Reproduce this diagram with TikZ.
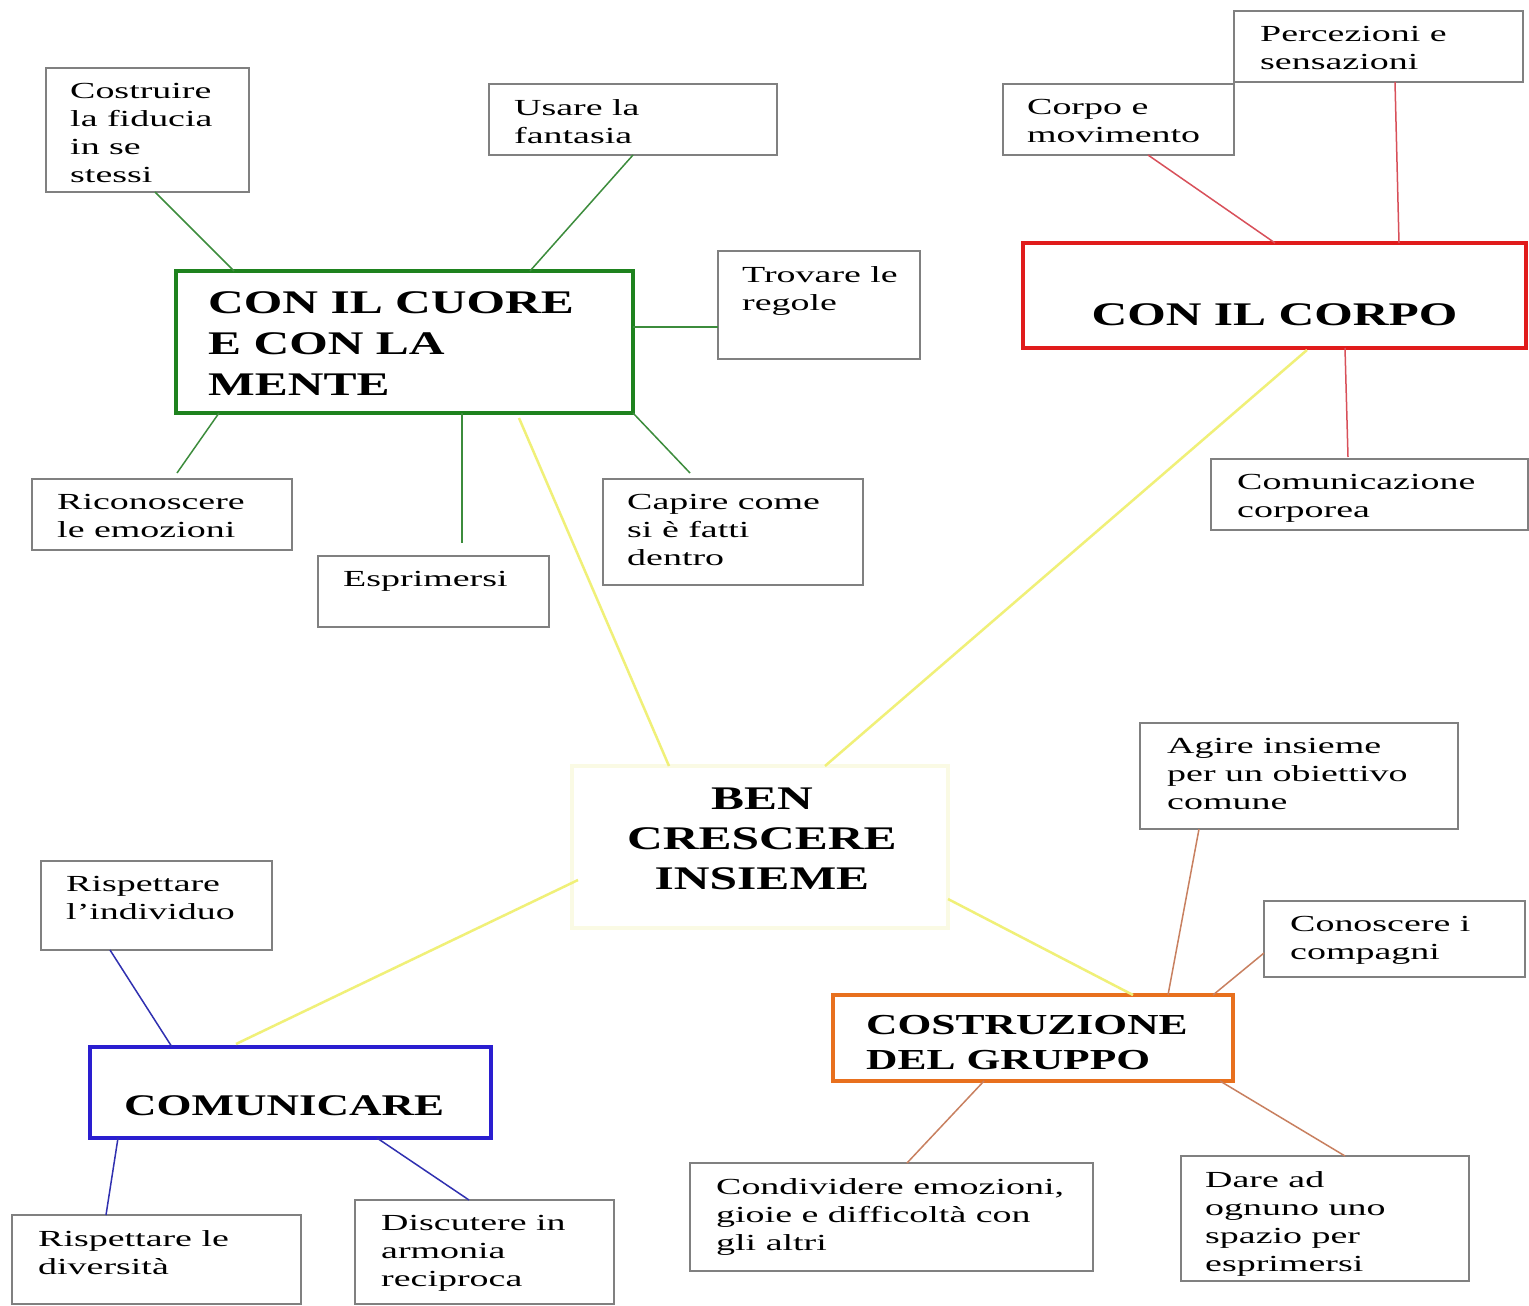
\documentclass[tikz,border=0pt]{standalone}
\usepackage{fontspec}
\setmainfont{Liberation Serif}[FakeStretch=1.65]
\newfontfamily\tfont{Liberation Serif}[FakeStretch=1.5]
\definecolor{cgreen}{HTML}{1E821E}
\definecolor{lgreen}{HTML}{3C8C3C}
\definecolor{cred}{HTML}{E01B1B}
\definecolor{lred}{HTML}{D8505A}
\definecolor{cblue}{HTML}{2A1ED0}
\definecolor{lblue}{HTML}{3030B0}
\definecolor{corange}{HTML}{E8701E}
\definecolor{lorange}{HTML}{C88060}
\definecolor{cyel}{HTML}{F0F078}
\definecolor{cpale}{HTML}{FAFAE4}
\definecolor{cgray}{HTML}{808080}
\tikzset{
  box/.style={draw, fill=white, anchor=north west, inner sep=0pt, outer sep=0pt},
  leaf/.style={box, draw=cgray, line width=1.5pt},
  mainbox/.style={box, line width=4.5pt},
  lt/.style={anchor=north west, inner sep=0pt, align=left, font=\fontsize{23}{28}\selectfont},
  tt/.style={inner sep=0pt, font=\tfont\bfseries\fontsize{33}{41}\selectfont},
  gline/.style={draw=lgreen, line width=1.5pt},
  rline/.style={draw=lred, line width=1.5pt},
  bline/.style={draw=lblue, line width=1.5pt},
  oline/.style={draw=lorange, line width=1.5pt},
  yline/.style={draw=cyel, line width=2.5pt},
}
\begin{document}
\begin{tikzpicture}[x=1pt,y=-1pt]
\useasboundingbox[fill=white] (0,0) rectangle (1529,1306);

% main boxes
\node[mainbox, draw=cgreen, minimum width=457pt, minimum height=142pt] (cuore) at (176,271) {};
\node[mainbox, draw=cred, minimum width=503pt, minimum height=105pt] (corpo) at (1023,243) {};
\node[mainbox, draw=cpale, minimum width=376pt, minimum height=162pt] (center) at (572,766) {};
\node[mainbox, draw=cblue, minimum width=401pt, minimum height=91pt] (comunicare) at (90,1047) {};
\node[mainbox, draw=corange, minimum width=400pt, minimum height=86pt] (costruzione) at (833,995) {};

% leaf boxes
\node[leaf, minimum width=203pt, minimum height=124pt] (costruire) at (46,68) {};
\node[leaf, minimum width=288pt, minimum height=71pt] (usare) at (489,84) {};
\node[leaf, minimum width=202pt, minimum height=108pt] (trovare) at (718,251) {};
\node[leaf, minimum width=260pt, minimum height=71pt] (riconoscere) at (32,479) {};
\node[leaf, minimum width=231pt, minimum height=71pt] (esprimersi) at (318,556) {};
\node[leaf, minimum width=260pt, minimum height=106pt] (capire) at (603,479) {};
\node[leaf, minimum width=231pt, minimum height=71pt] (corpomov) at (1003,84) {};
\node[leaf, minimum width=289pt, minimum height=71pt] (percezioni) at (1234,11) {};
\node[leaf, minimum width=317pt, minimum height=71pt] (comunicazione) at (1211,459) {};
\node[leaf, minimum width=318pt, minimum height=106pt] (agire) at (1140,723) {};
\node[leaf, minimum width=261pt, minimum height=76pt] (conoscere) at (1264,901) {};
\node[leaf, minimum width=403pt, minimum height=108pt] (condividere) at (690,1163) {};
\node[leaf, minimum width=288pt, minimum height=125pt] (dare) at (1181,1156) {};
\node[leaf, minimum width=231pt, minimum height=89pt] (individuo) at (41,861) {};
\node[leaf, minimum width=289pt, minimum height=89pt] (diversita) at (12,1215) {};
\node[leaf, minimum width=259pt, minimum height=104pt] (discutere) at (355,1200) {};

% title texts
\node[tt, anchor=north west, align=left] (tcuore) at ([shift={(32pt,-20pt)}]cuore.north west) {CON IL CUORE\\E CON LA\\MENTE};
\node[tt, anchor=north] (tcorpo) at ([yshift=-60pt]corpo.north) {CON IL CORPO};
\node[tt, anchor=north, align=center, font=\tfont\bfseries\fontsize{33}{40}\selectfont] (tcenter) at ([shift={(2pt,-22pt)}]center.north) {BEN\\CRESCERE\\INSIEME};
\node[tt, anchor=north west, font=\tfont\bfseries\fontsize{30}{36}\selectfont] (tcomunicare) at ([shift={(34pt,-48pt)}]comunicare.north west) {COMUNICARE};
\node[tt, anchor=north west, align=left, font=\tfont\bfseries\fontsize{29}{35}\selectfont] (tcostruzione) at ([shift={(33pt,-20pt)}]costruzione.north west) {COSTRUZIONE\\DEL GRUPPO};

% leaf texts
\node[lt] (tcostruire) at ([shift={(24pt,-15pt)}]costruire.north west) {Costruire\\la fiducia\\in se\\stessi};
\node[lt] (tusare) at ([shift={(25pt,-15pt)}]usare.north west) {Usare la\\fantasia};
\node[lt] (ttrovare) at ([shift={(24pt,-15pt)}]trovare.north west) {Trovare le\\regole};
\node[lt] (triconoscere) at ([shift={(25pt,-15pt)}]riconoscere.north west) {Riconoscere\\le emozioni};
\node[lt] (tesprimersi) at ([shift={(25pt,-15pt)}]esprimersi.north west) {Esprimersi};
\node[lt] (tcapire) at ([shift={(24pt,-15pt)}]capire.north west) {Capire come\\si è fatti\\dentro};
\node[lt] (tcorpomov) at ([shift={(24pt,-15pt)}]corpomov.north west) {Corpo e\\movimento};
\node[lt] (tpercezioni) at ([shift={(26pt,-15pt)}]percezioni.north west) {Percezioni e\\sensazioni};
\node[lt] (tcomunicazione) at ([shift={(26pt,-15pt)}]comunicazione.north west) {Comunicazione\\corporea};
\node[lt] (tagire) at ([shift={(27pt,-15pt)}]agire.north west) {Agire insieme\\per un obiettivo\\comune};
\node[lt] (tconoscere) at ([shift={(26pt,-15pt)}]conoscere.north west) {Conoscere i\\compagni};
\node[lt] (tcondividere) at ([shift={(26pt,-15pt)}]condividere.north west) {Condividere emozioni,\\gioie e difficoltà con\\gli altri};
\node[lt] (tdare) at ([shift={(24pt,-15pt)}]dare.north west) {Dare ad\\ognuno uno\\spazio per\\esprimersi};
\node[lt] (tindividuo) at ([shift={(25pt,-15pt)}]individuo.north west) {Rispettare\\l’individuo};
\node[lt] (tdiversita) at ([shift={(26pt,-15pt)}]diversita.north west) {Rispettare le\\diversità};
\node[lt] (tdiscutere) at ([shift={(26pt,-15pt)}]discutere.north west) {Discutere in\\armonia\\reciproca};

% green connectors
\draw[gline] ([xshift=109pt]costruire.south west) -- ([xshift=58pt]cuore.north west);
\draw[gline] ([xshift=144pt]usare.south west) -- ([xshift=354pt]cuore.north west);
\draw[gline] ([yshift=-56pt]cuore.north east) -- ([yshift=-76pt]trovare.north west);
\draw[gline] ([xshift=43pt]cuore.south west) -- ([shift={(145pt,6pt)}]riconoscere.north west);
\draw[gline] ([xshift=286pt]cuore.south west) -- ([shift={(144pt,13pt)}]esprimersi.north west);
\draw[gline] (cuore.south east) -- ([shift={(87pt,6pt)}]capire.north west);

% red connectors
\draw[rline] ([xshift=145pt]corpomov.south west) -- ([xshift=252pt]corpo.north west);
\draw[rline] ([xshift=161pt]percezioni.south west) -- ([xshift=376pt]corpo.north west);
\draw[rline] ([xshift=322pt]corpo.south west) -- ([shift={(137pt,2pt)}]comunicazione.north west);

% yellow connectors
\draw[yline] ([xshift=97pt]center.north west) -- ([shift={(343pt,-5pt)}]cuore.south west);
\draw[yline] ([xshift=253pt]center.north west) -- ([shift={(284pt,-2pt)}]corpo.south west);
\draw[yline] ([shift={(6pt,-114pt)}]center.north west) -- ([shift={(146pt,3pt)}]comunicare.north west);
\draw[yline] ([yshift=-133pt]center.north east) -- ([xshift=300pt]costruzione.north west);

% blue connectors
\draw[bline] ([xshift=69pt]individuo.south west) -- ([xshift=82pt]comunicare.north west);
\draw[bline] ([xshift=28pt]comunicare.south west) -- ([xshift=94pt]diversita.north west);
\draw[bline] ([xshift=287pt]comunicare.south west) -- ([xshift=114pt]discutere.north west);

% orange/brown connectors
\draw[oline] ([xshift=59pt]agire.south west) -- ([xshift=335pt]costruzione.north west);
\draw[oline] ([yshift=-52pt]conoscere.north west) -- ([xshift=380pt]costruzione.north west);
\draw[oline] ([xshift=151pt]costruzione.south west) -- ([xshift=217pt]condividere.north west);
\draw[oline] ([xshift=387pt]costruzione.south west) -- ([xshift=164pt]dare.north west);
\end{tikzpicture}
\end{document}
